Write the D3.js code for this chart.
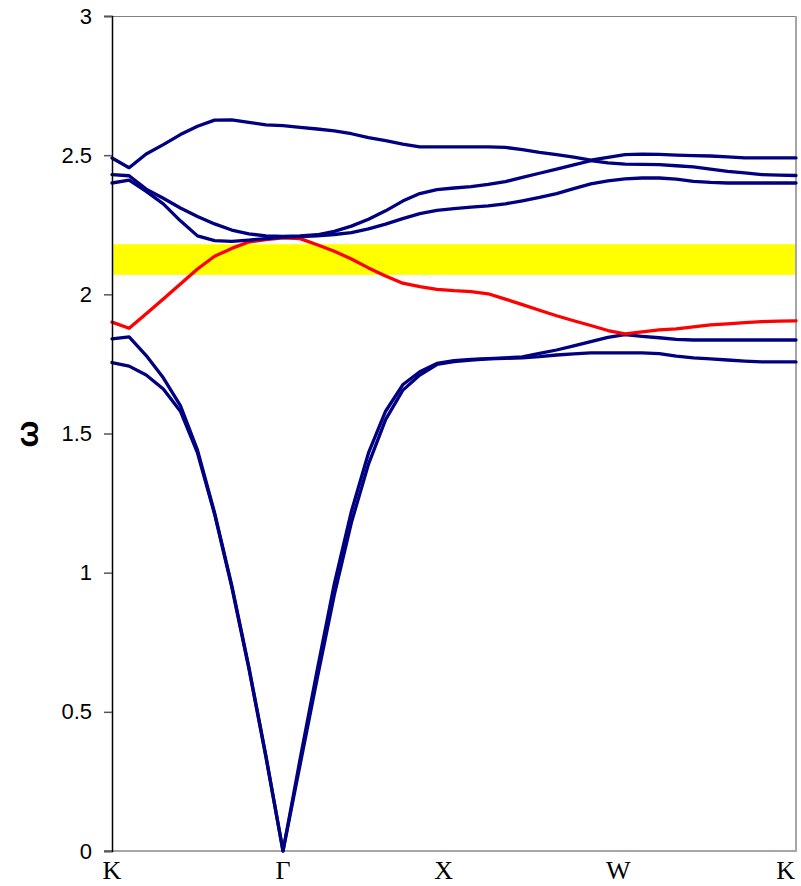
<!DOCTYPE html>
<html>
<head>
<meta charset="utf-8">
<script src="https://cdn.jsdelivr.net/npm/d3@7/dist/d3.min.js"></script>
<style>
  html, body { margin: 0; padding: 0; background: #fff; }
  svg { display: block; }
</style>
</head>
<body>
<svg id="chart" width="801" height="886"></svg>
<script>
// ---- Data ----
const kLabels = ["K", "Γ", "X", "W", "K"];
const kLabelPos = [0, 10, 19.4, 29.6, 39.4];
const yTicks = [0, 0.5, 1, 1.5, 2, 2.5, 3];
const gapBand = [2.07, 2.18];

const band1 = [1.755, 1.742, 1.71, 1.66, 1.58, 1.43, 1.21, 0.95, 0.657, 0.338, 0,
  0.31, 0.62, 0.92, 1.18, 1.39, 1.55, 1.655, 1.71, 1.748, 1.758,
  1.764, 1.768, 1.77, 1.772, 1.776, 1.782, 1.786, 1.79, 1.79, 1.79,
  1.79, 1.787, 1.778, 1.772, 1.768, 1.764, 1.76, 1.757, 1.757, 1.757];
const band2 = [1.84, 1.847, 1.78, 1.70, 1.60, 1.44, 1.215, 0.955, 0.662, 0.342, 0,
  0.33, 0.65, 0.96, 1.22, 1.43, 1.58, 1.675, 1.722, 1.752, 1.762,
  1.766, 1.769, 1.772, 1.775, 1.788, 1.80, 1.815, 1.83, 1.845, 1.855,
  1.849, 1.844, 1.838, 1.836, 1.836, 1.836, 1.836, 1.836, 1.836, 1.836];
const band3 = [1.90, 1.878, 1.93, 1.983, 2.037, 2.091, 2.137, 2.165, 2.188, 2.197, 2.203,
  2.20, 2.178, 2.155, 2.127, 2.095, 2.066, 2.04, 2.028, 2.018, 2.013,
  2.01, 2.002, 1.983, 1.963, 1.943, 1.923, 1.905, 1.888, 1.87, 1.858,
  1.865, 1.872, 1.876, 1.883, 1.89, 1.894, 1.898, 1.902, 1.904, 1.905];
const band4 = [2.40, 2.41, 2.37, 2.325, 2.264, 2.21, 2.193, 2.19, 2.195, 2.20, 2.205,
  2.207, 2.21, 2.215, 2.222, 2.235, 2.252, 2.272, 2.29, 2.302, 2.308,
  2.313, 2.318, 2.325, 2.336, 2.348, 2.362, 2.38, 2.397, 2.408, 2.415,
  2.418, 2.418, 2.414, 2.406, 2.402, 2.40, 2.40, 2.40, 2.40, 2.40];
const band5 = [2.43, 2.426, 2.378, 2.345, 2.31, 2.28, 2.253, 2.231, 2.217, 2.21, 2.208,
  2.21, 2.214, 2.226, 2.245, 2.27, 2.30, 2.335, 2.362, 2.376, 2.382,
  2.387, 2.395, 2.405, 2.42, 2.435, 2.45, 2.465, 2.48, 2.472, 2.468,
  2.467, 2.466, 2.462, 2.458, 2.45, 2.442, 2.436, 2.43, 2.428, 2.427];
const band6 = [2.49, 2.455, 2.504, 2.538, 2.574, 2.604, 2.626, 2.627, 2.618, 2.609, 2.606,
  2.60, 2.594, 2.587, 2.577, 2.563, 2.552, 2.54, 2.53, 2.53, 2.53,
  2.53, 2.53, 2.528, 2.52, 2.51, 2.502, 2.493, 2.482, 2.492, 2.502,
  2.504, 2.503, 2.50, 2.498, 2.497, 2.494, 2.49, 2.49, 2.49, 2.49];

const seriesList = [
  { name: "band1", values: band1, color: "#000080" },
  { name: "band2", values: band2, color: "#000080" },
  { name: "band3", values: band3, color: "#FF0000" },
  { name: "band4", values: band4, color: "#000080" },
  { name: "band5", values: band5, color: "#000080" },
  { name: "band6", values: band6, color: "#000080" }
];

// ---- Layout ----
const plotL = 112, plotR = 796, plotT = 16, plotB = 851;
const svg = d3.select("#chart");
svg.append("rect").attr("width", 801).attr("height", 886).attr("fill", "#fff");

const nPts = band1.length;
const x = d3.scaleLinear().domain([0, nPts - 1]).range([plotL, plotR]);
const y = d3.scaleLinear().domain([0, 3]).range([plotB, plotT]);

// yellow gap band
svg.append("rect")
  .attr("x", x(0)).attr("width", x(nPts - 1) - x(0))
  .attr("y", y(gapBand[1])).attr("height", y(gapBand[0]) - y(gapBand[1]))
  .attr("fill", "#FFFF00");

// plot borders (top, right, bottom)
svg.append("line").attr("x1", plotL).attr("x2", plotR).attr("y1", plotT + 0.5).attr("y2", plotT + 0.5)
  .attr("stroke", "#808080").attr("stroke-width", 1);
svg.append("line").attr("x1", plotR).attr("x2", plotR).attr("y1", plotT).attr("y2", plotB)
  .attr("stroke", "#a6a6a6").attr("stroke-width", 2);
svg.append("line").attr("x1", 104).attr("x2", plotR + 1).attr("y1", plotB).attr("y2", plotB)
  .attr("stroke", "#a6a6a6").attr("stroke-width", 2);

// lines
const line = d3.line().x((d, i) => x(i)).y(d => y(d)).curve(d3.curveLinear);
svg.append("g").selectAll("path").data(seriesList).join("path")
  .attr("d", d => line(d.values))
  .attr("fill", "none")
  .attr("stroke", d => d.color)
  .attr("stroke-width", 3.3)
  .attr("stroke-linejoin", "round")
  .attr("stroke-linecap", "round");

// y axis
const yAxis = d3.axisLeft(y).tickValues(yTicks).tickSize(8).tickPadding(12)
  .tickFormat(d => String(d));
const gy = svg.append("g").attr("transform", `translate(${plotL},0)`).call(yAxis);
gy.select(".domain").attr("stroke", "#000").attr("stroke-width", 1.5);
gy.selectAll(".tick line").attr("stroke", "#555").attr("stroke-width", 1.5);
gy.selectAll(".tick text")
  .attr("font-family", "Arial, 'Liberation Sans', sans-serif")
  .attr("font-size", 22).attr("fill", "#000");

// x labels
svg.append("g").selectAll("text").data(kLabels).join("text")
  .attr("x", (d, i) => x(kLabelPos[i]))
  .attr("y", 879)
  .attr("text-anchor", "middle")
  .attr("font-family", "'Times New Roman', 'Liberation Serif', serif")
  .attr("font-size", 26)
  .attr("fill", "#000")
  .text(d => d);

// y axis title
svg.append("text")
  .attr("transform", `translate(38,434) rotate(-90)`)
  .attr("text-anchor", "middle")
  .attr("font-family", "Arial, 'Liberation Sans', sans-serif")
  .attr("font-weight", "bold")
  .attr("font-size", 32)
  .attr("fill", "#000")
  .text("ω");
</script>
</body>
</html>
